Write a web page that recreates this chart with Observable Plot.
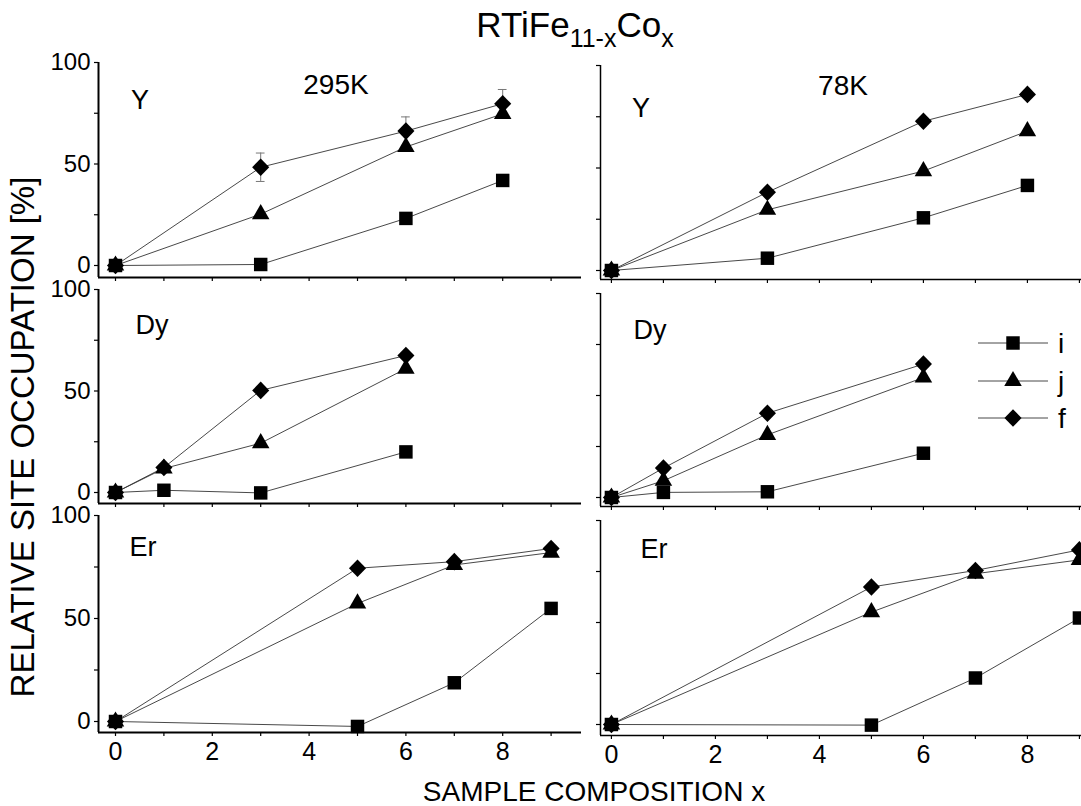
<!DOCTYPE html>
<html><head><meta charset="utf-8">
<script src="https://cdn.jsdelivr.net/npm/d3@7"></script>
<script src="https://cdn.jsdelivr.net/npm/@observablehq/plot@0.6"></script>
<style>
html,body{margin:0;padding:0;background:#fff;overflow:hidden;}
#chart{position:relative;width:1081px;height:806px;background:#fff;font-family:"Liberation Sans",Arial,sans-serif;color:#000;overflow:hidden;}
.abs{position:absolute;line-height:1;white-space:nowrap;}
</style></head><body><div id="chart"></div>
<script>
// ---------------- data ----------------
const siteNames = ["i", "j", "f"];
const compY  = [0, 3, 6, 8];
const compDy = [0, 1, 3, 6];
const compEr = [0, 5, 7, 9];

// 295 K
const Y295_i  = [0, 0.5, 23.2, 41.9];
const Y295_j  = [0, 25.3, 58.4, 74.7];
const Y295_f  = [0, 48.4, 66.2, 79.7];
const Y295_fErr = [null, 7, 7, 7];
const Dy295_i = [0, 1.1, -0.2, 20.0];
const Dy295_j = [0, 11.8, 24.3, 61.0];
const Dy295_f = [0, 12.3, 50.3, 67.5];
const Er295_i = [0, -2.4, 18.8, 54.9];
const Er295_j = [0, 57.3, 76.0, 82.0];
const Er295_f = [0, 74.4, 77.6, 84.0];

// 78 K
const Y78_i  = [0, 6.0, 25.7, 41.5];
const Y78_j  = [0, 29.6, 48.5, 68.0];
const Y78_f  = [0, 38.2, 72.8, 85.9];
const Dy78_i = [0, 2.5, 2.8, 21.7];
const Dy78_j = [0, 8.2, 30.7, 58.8];
const Dy78_f = [0, 14.4, 41.3, 65.4];
const Er78_i = [0, -0.3, 22.8, 52.2];
const Er78_j = [0, 55.1, 73.9, 80.7];
const Er78_f = [0, 67.4, 75.5, 85.6];

const yTicks = [0, 25, 50, 75, 100];
const yTickLabels = [0, 50, 100];
const xTicks = [0, 1, 2, 3, 4, 5, 6, 7, 8, 9];
const xTickLabels = [0, 2, 4, 6, 8];
const temps = ["295K", "78K"];
const elements = ["Y", "Dy", "Er"];
const titleMain = "RTiFe", titleSub1 = "11-x", titleMid = "Co", titleSub2 = "x";
const yTitle = "RELATIVE SITE OCCUPATION [%]";
const xTitle = "SAMPLE COMPOSITION x";

// ---------------- helpers ----------------
function table(comp, i, j, f) {
  const rows = [];
  [i, j, f].forEach((vals, k) => comp.forEach((x, n) => rows.push({site: siteNames[k], x, y: vals[n]})));
  return rows;
}
const diamondSym = {draw(ctx, size) { const r = Math.sqrt(size) * 0.62625; ctx.moveTo(0, -r * 1.03); ctx.lineTo(r, 0); ctx.lineTo(0, r * 1.03); ctx.lineTo(-r, 0); ctx.closePath(); }};
const symFor = {i: {symbol: "square", r: 7.6}, j: {symbol: "triangle", r: 6.5}, f: {symbol: diamondSym, r: 7.7}};

const chart = document.getElementById("chart");
const FONT = '"Liberation Sans", Arial, sans-serif';

const panels = [
  {col: 0, row: 0, data: table(compY, Y295_i, Y295_j, Y295_f), err: compY.map((x, n) => ({x, y: Y295_f[n], e: Y295_fErr[n]})).filter(d => d.e != null), y100: 62, y0: 265, axisB: 277, name: elements[0], namePos: [140, 100], temp: temps[0], tempPos: [336, 85]},
  {col: 0, row: 1, data: table(compDy, Dy295_i, Dy295_j, Dy295_f), y100: 289, y0: 492, axisB: 503, name: elements[1], namePos: [152, 325]},
  {col: 0, row: 2, data: table(compEr, Er295_i, Er295_j, Er295_f), y100: 515, y0: 721, axisB: 732, name: elements[2], namePos: [143, 547]},
  {col: 1, row: 0, data: table(compY, Y78_i, Y78_j, Y78_f), y100: 65, y0: 270, axisB: 279, name: elements[0], namePos: [641, 108], temp: temps[1], tempPos: [843, 86]},
  {col: 1, row: 1, data: table(compDy, Dy78_i, Dy78_j, Dy78_f), y100: 293, y0: 497, axisB: 506, name: elements[1], namePos: [650, 330]},
  {col: 1, row: 2, data: table(compEr, Er78_i, Er78_j, Er78_f), y100: 520, y0: 724, axisB: 735, name: elements[2], namePos: [654, 549]}
];

// left column: axis at x=98, composition 0 at x=115, 48.4 px per unit
const colLayout = [
  {left: 0, width: 590, mL: 98, mR: 9, xDomain: [-(115 - 98) / 48.4, (581 - 115) / 48.4], sw: 2},
  {left: 500, width: 581, mL: 100, mR: 0, xDomain: [-0.21, 9.04], sw: 1.5}
];

for (const p of panels) {
  const c = colLayout[p.col];
  const mT = 14, mB = p.row === 2 ? 60 : 12;
  const yMin = -(p.axisB - p.y0) / ((p.y0 - p.y100) / 100);
  const yDomain = [yMin, 100];
  const height = mT + (p.axisB - p.y100) + mB;
  const showY = p.col === 0, showX = p.row === 2;
  const marks = [
    Plot.axisY({ticks: yTicks, tickSize: 4, tickPadding: 4, label: null, anchor: "left", strokeWidth: 1.2,
      tickFormat: d => (showY && yTickLabels.includes(d)) ? String(d) : ""}),
    Plot.axisX({ticks: xTicks, tickSize: 4, tickPadding: 6, label: null, anchor: "bottom", strokeWidth: 1.2, fontSize: 25,
      tickFormat: d => (showX && xTickLabels.includes(d)) ? String(d) : ""}),
    Plot.ruleY([yDomain[0]], {stroke: "#000", strokeWidth: c.sw}),
    Plot.ruleX([c.xDomain[0]], {stroke: "#000", strokeWidth: c.sw}),
    Plot.line(p.data, {x: "x", y: "y", z: "site", stroke: "#333", strokeWidth: 0.9})
  ];
  if (p.err) {
    marks.push(
      Plot.ruleX(p.err, {x: "x", y1: d => d.y - d.e, y2: d => d.y + d.e, stroke: "#777", strokeWidth: 1}),
      Plot.ruleY(p.err, {y: d => d.y + d.e, x1: d => d.x - 0.09, x2: d => d.x + 0.09, stroke: "#777", strokeWidth: 1}),
      Plot.ruleY(p.err, {y: d => d.y - d.e, x1: d => d.x - 0.09, x2: d => d.x + 0.09, stroke: "#777", strokeWidth: 1})
    );
  }
  for (const s of siteNames) {
    marks.push(Plot.dot(p.data.filter(d => d.site === s), {x: "x", y: "y", symbol: symFor[s].symbol, r: symFor[s].r, fill: "#000", stroke: "none"}));
  }
  const svg = Plot.plot({
    width: c.width, height,
    marginLeft: c.mL, marginRight: c.mR, marginTop: mT, marginBottom: mB,
    style: {fontSize: "24px", fontFamily: FONT, color: "#000", background: "transparent", overflow: "visible",
      position: "absolute", left: c.left + "px", top: (p.y100 - mT) + "px", maxWidth: "none"},
    x: {domain: c.xDomain, label: null},
    y: {domain: yDomain, label: null},
    marks
  });
  chart.appendChild(svg);

  const addText = (txt, cx, cy, fs) => {
    const d = document.createElement("div");
    d.className = "abs";
    d.textContent = txt;
    d.style.fontSize = fs + "px";
    d.style.left = cx + "px";
    d.style.top = (cy - 0.4885 * fs) + "px";
    d.style.transform = "translateX(-50%)";
    chart.appendChild(d);
  };
  addText(p.name, p.namePos[0], p.namePos[1], 27);
  if (p.temp) addText(p.temp, p.tempPos[0], p.tempPos[1], 28);
}

// title
const t = document.createElement("div");
t.className = "abs";
t.style.fontSize = "35px";
t.style.left = "575px"; t.style.top = "7px"; t.style.transform = "translateX(-50%)";
t.innerHTML = `${titleMain}<span style="font-size:25px;position:relative;top:10px">${titleSub1}</span>${titleMid}<span style="font-size:25px;position:relative;top:10px">${titleSub2}</span>`;
chart.appendChild(t);

// y title
const yt = document.createElement("div");
yt.className = "abs";
yt.textContent = yTitle;
yt.style.fontSize = "33px";
yt.style.left = "22px"; yt.style.top = "437px";
yt.style.transform = "translate(-50%,-50%) rotate(-90deg)";
chart.appendChild(yt);

// x title
const xt = document.createElement("div");
xt.className = "abs";
xt.textContent = xTitle;
xt.style.fontSize = "28px";
xt.style.left = "594px"; xt.style.top = "778px"; xt.style.transform = "translateX(-50%)";
chart.appendChild(xt);

// legend (inside 78K Dy panel)
const legRows = [343, 381, 418];
const leg = d3.select(chart).append("svg")
  .style("position", "absolute").style("left", "0px").style("top", "0px")
  .attr("width", 1081).attr("height", 806).style("pointer-events", "none");
siteNames.forEach((s, k) => {
  const y = legRows[k];
  leg.append("line").attr("x1", 978).attr("x2", 1048).attr("y1", y).attr("y2", y).attr("stroke", "#333").attr("stroke-width", 0.9);
  const sym = s === "i" ? d3.symbolSquare : s === "j" ? d3.symbolTriangle : diamondSym;
  leg.append("path").attr("d", d3.symbol(sym, Math.PI * symFor[s].r ** 2)()).attr("transform", `translate(1013,${y})`).attr("fill", "#000");
  leg.append("text").attr("x", 1058).attr("y", y + 10).attr("font-size", 28).attr("font-family", FONT).text(s);
});
</script>
</body></html>
